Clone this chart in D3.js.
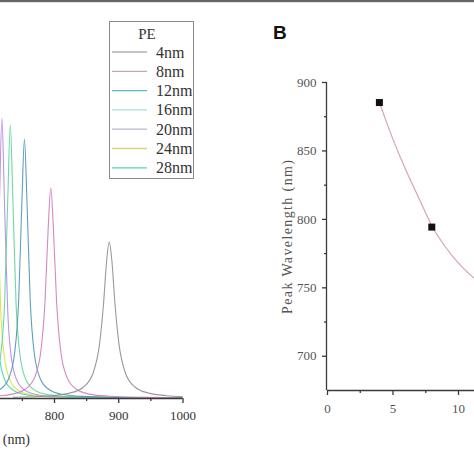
<!DOCTYPE html>
<html><head><meta charset="utf-8">
<script src="https://cdn.jsdelivr.net/npm/d3@7"></script>
<style>
html,body{margin:0;padding:0;background:#fff;}
svg{display:block;}
</style></head><body>
<script>
// ---- Panel A: absorption spectra (PE thickness) ----
const seriesLabels = ["4nm","8nm","12nm","16nm","20nm","24nm","28nm"];
const seriesColors = ["#8f8f8f","#d07cb4","#4f93b8","#5ed49a","#b58ae0","#dede3a","#38dcb0"];
const legendColors = ["#b0b0b0","#c9a3b8","#5cb6c2","#a6e6cc","#c2b2d8","#d6d67a","#52d6b6"];
const wl4  = [736,796,826,846,861,871,877,882,886,890,895,901,911,926,946,976,1000];
const int4 = [0.008,0.023,0.051,0.110,0.253,0.546,0.935,1.378,1.56,1.378,0.935,0.546,0.253,0.110,0.051,0.023,0.014];
const wl8  = [645,705,735,755,770,780,786,791,795,799,804,810,820,835,855,885,945,1000];
const int8 = [0.006,0.018,0.039,0.087,0.209,0.492,0.965,1.704,2.10,1.704,0.965,0.492,0.209,0.087,0.039,0.018,0.006,0.003];
const wl12  = [604,664,694,714,729,739,745,750,754,758,763,769,779,794,814,844,904,1000];
const int12 = [0.006,0.016,0.035,0.077,0.188,0.463,0.976,1.952,2.59,1.952,0.976,0.463,0.188,0.077,0.035,0.016,0.006,0.002];
const wl16  = [582,642,672,692,707,717,723,728,732,736,741,747,757,772,792,822,882,1000];
const int16 = [0.005,0.014,0.032,0.070,0.173,0.432,0.936,1.980,2.73,1.980,0.936,0.432,0.173,0.070,0.032,0.014,0.005,0.002];
const wl20  = [569,629,659,679,694,704,710,715,719,723,728,734,744,759,779,809,869,1000];
const int20 = [0.004,0.012,0.028,0.062,0.153,0.386,0.862,1.938,2.80,1.938,0.862,0.386,0.153,0.062,0.028,0.012,0.004,0.002];
const wl24  = [558,618,648,668,683,693,699,704,708,712,717,723,733,748,768,798,858,1000];
const int24 = [0.005,0.013,0.029,0.063,0.157,0.397,0.886,1.994,2.88,1.994,0.886,0.397,0.157,0.063,0.029,0.013,0.005,0.002];
const wl28  = [550,610,640,660,675,685,691,696,700,704,709,715,725,740,760,790,850,1000];
const int28 = [0.005,0.013,0.029,0.065,0.161,0.407,0.908,2.042,2.95,2.042,0.908,0.407,0.161,0.065,0.029,0.013,0.005,0.002];
const wlMajorTicks = [700,800,900,1000];
const wlMinorTicks = [750,850,950];

// ---- Panel B: peak wavelength vs thickness ----
const thickness = [4,8,12,16,20,24,28];
const peakWl    = [885,794,753,732,719,708,700];
const fitX = [4,5,6,7,8,9,10,11.3];
const fitY = [885,859,836,815.5,795,780,768,756];
const bXTicks = [0,5,10];
const bXMinor = [2.5,7.5];
const bYTicks = [700,750,800,850,900];
const bYMinor = [725,775,825,875];

const SERIF = "'Liberation Serif','DejaVu Serif',serif";
const W = 474, H = 474;
const svg = d3.select("body").append("svg").attr("width", W).attr("height", H);

function styleAxis(g, size, color){
  g.selectAll("path,line").attr("stroke","#3a3a3a").attr("stroke-width",1.3);
  g.selectAll("text").style("font-family",SERIF).style("font-size",size).attr("fill",color);
}

// top border bar
svg.append("rect").attr("x",0).attr("y",0).attr("width",W).attr("height",2.2).attr("fill","#666");

// ===== Panel A =====
const xA = d3.scaleLinear().domain([600,1000]).range([-74.5,182.5]);
const yA = d3.scaleLinear().domain([0,3]).range([398,98]);
svg.append("clipPath").attr("id","clipA").append("rect")
  .attr("x",-100).attr("y",0).attr("width",283).attr("height",398);

const spectra = [
  {wl:wl28,v:int28,i:6},{wl:wl24,v:int24,i:5},{wl:wl20,v:int20,i:4},
  {wl:wl16,v:int16,i:3},{wl:wl12,v:int12,i:2},{wl:wl8,v:int8,i:1},{wl:wl4,v:int4,i:0}
];
const lineA = d3.line().x(d=>xA(d[0])).y(d=>yA(d[1])).curve(d3.curveMonotoneX);
const gA = svg.append("g").attr("clip-path","url(#clipA)");
spectra.forEach(s=>{
  gA.append("path").datum(s.wl.map((w,k)=>[w,s.v[k]]))
    .attr("d",lineA).attr("fill","none")
    .attr("stroke",seriesColors[s.i]).attr("stroke-width",1.1).attr("stroke-opacity",0.9);
});

const axA = svg.append("g").attr("transform","translate(0,398)")
  .call(d3.axisBottom(xA).tickValues(wlMajorTicks).tickSize(5).tickSizeOuter(0).tickFormat(d3.format("d")));
axA.select(".domain").attr("d","M-80,0.5H182.5");
styleAxis(axA,"13px","#333");
axA.selectAll("text").attr("dy","1.05em");
const axAm = svg.append("g").attr("transform","translate(0,398)")
  .call(d3.axisBottom(xA).tickValues(wlMinorTicks).tickSize(3).tickFormat(""));
axAm.select(".domain").remove();
styleAxis(axAm,"13px","#333");
svg.append("text").attr("x",30).attr("y",444).attr("text-anchor","end")
  .style("font-family",SERIF).style("font-size","14px").attr("fill","#333")
  .text("Wavelength (nm)");

// legend
const lg = svg.append("g");
lg.append("rect").attr("x",109.5).attr("y",21.5).attr("width",84).attr("height",157)
  .attr("fill","#fff").attr("stroke","#8a8a8a").attr("stroke-width",1);
lg.append("text").attr("x",147).attr("y",39).attr("text-anchor","middle")
  .style("font-family",SERIF).style("font-size","15px").attr("fill","#333").text("PE");
seriesLabels.forEach((lab,i)=>{
  const y = 52 + i*19.3;
  lg.append("line").attr("x1",112).attr("x2",147).attr("y1",y).attr("y2",y)
    .attr("stroke",legendColors[i]).attr("stroke-width",1.3);
  lg.append("text").attr("x",156).attr("y",y+5.5)
    .style("font-family",SERIF).style("font-size","16px").attr("fill","#333").text(lab);
});

// ===== Panel B =====
const xB = d3.scaleLinear().domain([0,30]).range([327,720]);
const yB = d3.scaleLinear().domain([675,900]).range([390,82]);

svg.append("text").attr("x",273).attr("y",39)
  .style("font-family","'Liberation Sans',Arial,sans-serif")
  .style("font-weight","bold").style("font-size","19px").attr("fill","#111").text("B");

const axBx = svg.append("g").attr("transform","translate(0,390)")
  .call(d3.axisBottom(xB).tickValues(bXTicks).tickSize(5).tickSizeOuter(0));
axBx.select(".domain").attr("d","M327,0.5H474");
styleAxis(axBx,"13px","#555");
axBx.selectAll("text").attr("dy","1.15em");
const axBxm = svg.append("g").attr("transform","translate(0,390)")
  .call(d3.axisBottom(xB).tickValues(bXMinor).tickSize(3).tickFormat(""));
axBxm.select(".domain").remove();
styleAxis(axBxm,"13px","#555");

const axBy = svg.append("g").attr("transform","translate(327,0)")
  .call(d3.axisLeft(yB).tickValues(bYTicks).tickSize(5).tickSizeOuter(0));
axBy.select(".domain").attr("d","M-0.5,82V390");
styleAxis(axBy,"13px","#555");
axBy.selectAll("text").attr("dx","-0.2em");
const axBym = svg.append("g").attr("transform","translate(327,0)")
  .call(d3.axisLeft(yB).tickValues(bYMinor).tickSize(3).tickFormat(""));
axBym.select(".domain").remove();
styleAxis(axBym,"13px","#555");

svg.append("text").attr("transform","translate(292,237) rotate(-90)").attr("text-anchor","middle")
  .style("font-family",SERIF).style("font-size","14px").attr("fill","#555")
  .attr("textLength",154).attr("lengthAdjust","spacing").text("Peak Wavelength (nm)");

svg.append("path").datum(fitX.map((x,k)=>[x,fitY[k]]))
  .attr("d", d3.line().x(d=>xB(d[0])).y(d=>yB(d[1])).curve(d3.curveMonotoneX))
  .attr("fill","none").attr("stroke","#d6a2b8").attr("stroke-width",1.2);

svg.selectAll("rect.pt").data(thickness.map((t,k)=>[t,peakWl[k]])).enter().append("rect")
  .attr("class","pt").attr("x",d=>xB(d[0])-3.5).attr("y",d=>yB(d[1])-3.5)
  .attr("width",7).attr("height",7).attr("fill","#111");
</script>
</body></html>
